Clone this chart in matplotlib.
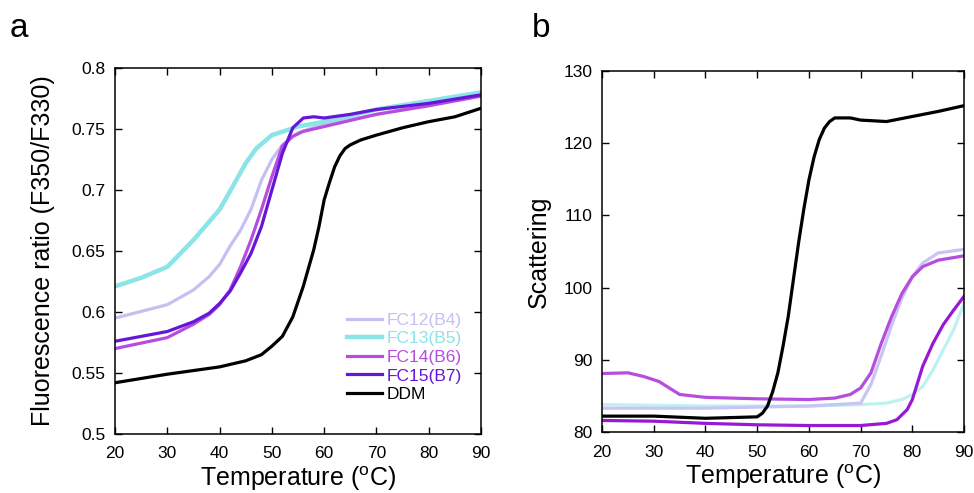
import matplotlib
matplotlib.use("Agg")
import matplotlib.pyplot as plt

plt.rcParams['font.family'] = ['Liberation Sans', 'DejaVu Sans']

# ---------------- Panel a: fluorescence ratio ----------------
a_fc12_t = [20, 30, 35, 38, 40, 42, 44, 46, 48, 50, 52, 55, 60, 70, 80, 90]
a_fc12_y = [0.595, 0.606, 0.618, 0.629, 0.639, 0.654, 0.667, 0.684, 0.708, 0.725, 0.737, 0.747, 0.754, 0.762, 0.770, 0.777]

a_fc13_t = [20, 25, 30, 35, 38, 40, 42, 45, 47, 50, 55, 60, 70, 80, 90]
a_fc13_y = [0.621, 0.628, 0.637, 0.659, 0.674, 0.684, 0.699, 0.722, 0.734, 0.745, 0.752, 0.756, 0.766, 0.773, 0.780]

a_fc14_t = [20, 30, 35, 38, 40, 42, 44, 46, 48, 50, 52, 54, 56, 60, 70, 80, 90]
a_fc14_y = [0.570, 0.579, 0.590, 0.598, 0.606, 0.618, 0.637, 0.659, 0.684, 0.711, 0.736, 0.744, 0.748, 0.752, 0.762, 0.769, 0.777]

a_fc15_t = [20, 30, 35, 38, 40, 42, 44, 46, 48, 50, 52, 54, 56, 58, 60, 65, 70, 80, 90]
a_fc15_y = [0.576, 0.584, 0.592, 0.599, 0.607, 0.617, 0.632, 0.648, 0.670, 0.700, 0.730, 0.751, 0.759, 0.760, 0.759, 0.762, 0.766, 0.771, 0.778]

a_ddm_t = [20, 30, 40, 45, 48, 50, 52, 54, 56, 58, 59, 60, 61, 62, 63, 64, 65, 67, 70, 75, 80, 85, 90]
a_ddm_y = [0.542, 0.549, 0.555, 0.560, 0.565, 0.572, 0.580, 0.596, 0.621, 0.651, 0.670, 0.692, 0.706, 0.719, 0.728, 0.734, 0.737, 0.741, 0.745, 0.751, 0.756, 0.760, 0.767]

# ---------------- Panel b: scattering ----------------
b_ddm_t = [20, 30, 40, 50, 51, 52, 53, 54, 55, 56, 57, 58, 59, 60, 61, 62, 63, 64, 65, 68, 70, 75, 80, 85, 90]
b_ddm_y = [82.2, 82.2, 81.9, 82.1, 82.6, 83.6, 85.6, 88.2, 91.9, 96.0, 101.1, 106.2, 110.8, 114.9, 118.1, 120.5, 122.1, 123.0, 123.5, 123.5, 123.2, 123.0, 123.7, 124.4, 125.2]

b_fc14_t = [20, 25, 28, 31, 33, 35, 40, 50, 60, 65, 68, 70, 72, 74, 76, 78, 80, 82, 85, 90]
b_fc14_y = [88.1, 88.2, 87.7, 87.0, 86.1, 85.2, 84.8, 84.6, 84.5, 84.7, 85.2, 86.1, 88.2, 92.3, 96.0, 99.2, 101.5, 102.9, 103.8, 104.4]

b_fc12_t = [20, 40, 60, 70, 72, 74, 76, 78, 80, 82, 85, 90]
b_fc12_y = [83.3, 83.3, 83.6, 84.0, 86.6, 90.6, 94.8, 98.6, 101.5, 103.4, 104.8, 105.3]

b_fc13_t = [20, 40, 60, 70, 75, 78, 80, 82, 84, 86, 88, 90]
b_fc13_y = [83.8, 83.6, 83.6, 83.8, 84.0, 84.5, 85.2, 86.3, 88.6, 91.4, 94.2, 97.8]

b_fc15_t = [20, 30, 40, 50, 60, 70, 75, 77, 79, 80, 81, 82, 84, 86, 88, 90]
b_fc15_y = [81.6, 81.5, 81.2, 81.0, 80.9, 80.9, 81.2, 81.7, 83.1, 84.5, 86.8, 89.1, 92.3, 94.9, 96.9, 98.8]

labels = ['FC12(B4)', 'FC13(B5)', 'FC14(B6)', 'FC15(B7)', 'DDM']
colors_a = ['#c4c0f2', '#8ae4e8', '#b64ddc', '#6516d8', '#000000']
colors_b = ['#c8c4f4', '#bdf1f2', '#b64ddc', '#9818d4', '#000000']

x_ticks = [20, 30, 40, 50, 60, 70, 80, 90]
a_yticks = [0.5, 0.55, 0.6, 0.65, 0.7, 0.75, 0.8]
a_yticklabels = ['0.5', '0.55', '0.6', '0.65', '0.7', '0.75', '0.8']
b_yticks = [80, 90, 100, 110, 120, 130]

fig = plt.figure(figsize=(9.74, 4.93), dpi=100)
ax1 = fig.add_axes([0.1181, 0.1197, 0.3758, 0.7424])
ax2 = fig.add_axes([0.6181, 0.1237, 0.3717, 0.7323])

lw = 2.3
a_data = [(a_fc12_t, a_fc12_y), (a_fc13_t, a_fc13_y), (a_fc14_t, a_fc14_y),
          (a_fc15_t, a_fc15_y), (a_ddm_t, a_ddm_y)]
lines = []
for (t, y), c, lab in zip(a_data, colors_a, labels):
    l, = ax1.plot(t, y, color=c, lw=(3.2 if lab == 'FC13(B5)' else lw), label=lab)
    lines.append(l)

b_data = [(b_fc13_t, b_fc13_y), (b_fc12_t, b_fc12_y), (b_fc14_t, b_fc14_y),
          (b_fc15_t, b_fc15_y), (b_ddm_t, b_ddm_y)]
b_cols = [colors_b[1], colors_b[0], colors_b[2], colors_b[3], colors_b[4]]
for (t, y), c in zip(b_data, b_cols):
    ax2.plot(t, y, color=c, lw=lw)

for ax in (ax1, ax2):
    ax.set_xlim(20, 90)
    ax.set_xticks(x_ticks)
    ax.tick_params(direction='in', length=5, width=1, top=True, right=True,
                   labelsize=12.5)
    ax.tick_params(axis='x', pad=9)
    ax.tick_params(axis='y', pad=7)
    for s in ax.spines.values():
        s.set_linewidth(1.1)
    ax.set_xlabel('Temperature ($^{\\mathregular{o}}$C)', fontsize=18, labelpad=2)

ax1.set_ylim(0.5, 0.8)
ax1.set_yticks(a_yticks)
ax1.set_yticklabels(a_yticklabels)
ax1.set_ylabel('Fluorescence ratio (F350/F330)', fontsize=18, labelpad=12)

ax2.set_ylim(80, 130)
ax2.set_yticks(b_yticks)
ax2.set_ylabel('Scattering', fontsize=18, labelpad=9)

leg = ax1.legend(handles=lines, loc='lower left', bbox_to_anchor=(0.634, 0.087),
                 frameon=False, fontsize=12.5, handlelength=2.0, handletextpad=0.25,
                 labelspacing=0.2, borderaxespad=0, borderpad=0)
for txt, c in zip(leg.get_texts(), colors_a):
    txt.set_color(c)

fig.text(0.010, 0.925, 'a', fontsize=24)
fig.text(0.546, 0.925, 'b', fontsize=24)

fig.savefig('out.png', dpi=100)
